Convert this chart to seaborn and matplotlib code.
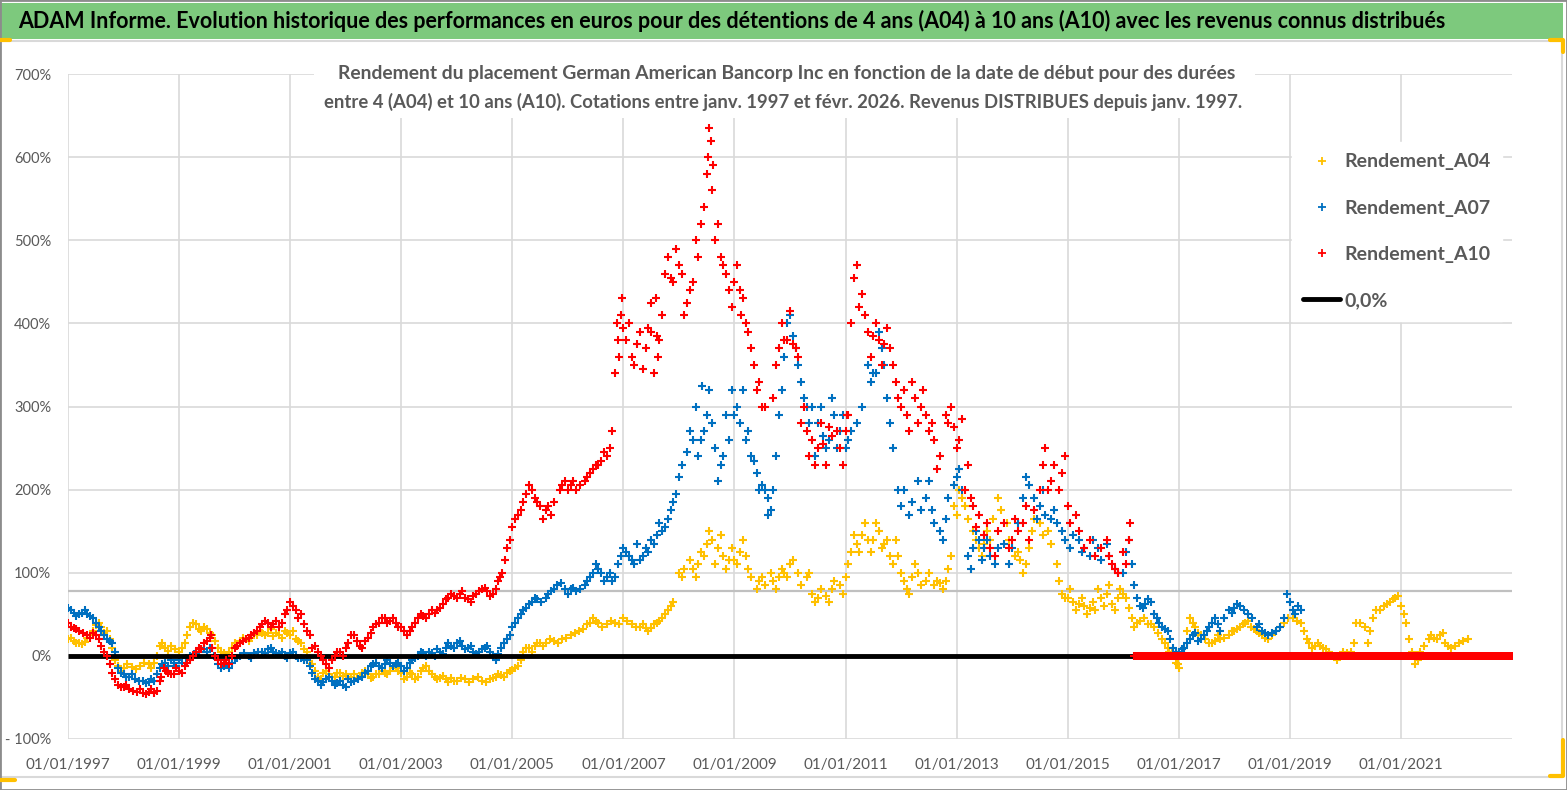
import matplotlib

matplotlib.use("Agg")
import matplotlib.pyplot as plt
import numpy as np
import seaborn as sns
from matplotlib.lines import Line2D
from matplotlib.patches import Rectangle

sns.set_theme(style="white")
plt.rcParams["font.family"] = ["Lato", "DejaVu Sans"]

# ---- data (decimal year, % return) ----
a04_years = [
    1997.0, 1997.1, 1997.2, 1997.3, 1997.4, 1997.5, 1997.6, 1997.7, 1997.8, 1997.9,
    1998.0, 1998.15, 1998.3, 1998.45, 1998.55, 1998.65, 1998.75, 1998.85, 1999.0, 1999.1,
    1999.2, 1999.3, 1999.4, 1999.5, 1999.6, 1999.7, 1999.8, 1999.9, 2000.0, 2000.1,
    2000.2, 2000.3, 2000.4, 2000.5, 2000.6, 2000.7, 2000.8, 2000.9, 2001.0, 2001.1,
    2001.2, 2001.3, 2001.4, 2001.5, 2001.6, 2001.7, 2001.8, 2001.9, 2002.0, 2002.1,
    2002.2, 2002.3, 2002.4, 2002.5, 2002.6, 2002.7, 2002.8, 2002.9, 2003.0, 2003.1,
    2003.2, 2003.3, 2003.4, 2003.5, 2003.6, 2003.7, 2003.8, 2003.9, 2004.0, 2004.15,
    2004.3, 2004.45, 2004.6, 2004.7, 2004.8, 2004.9, 2005.0, 2005.1, 2005.2, 2005.3,
    2005.4, 2005.5, 2005.6, 2005.75, 2005.9, 2006.05, 2006.2, 2006.35, 2006.45, 2006.55,
    2006.7, 2006.85, 2007.0, 2007.15, 2007.3, 2007.4, 2007.5, 2007.6, 2007.7, 2007.8,
    2007.9, 2008.0, 2008.1, 2008.25, 2008.35, 2008.45, 2008.55, 2008.6, 2008.7, 2008.8,
    2008.9, 2009.0, 2009.1, 2009.2, 2009.3, 2009.45, 2009.55, 2009.7, 2009.8, 2009.9,
    2010.0, 2010.15, 2010.3, 2010.4, 2010.5, 2010.65, 2010.75, 2010.9, 2011.0, 2011.1,
    2011.2, 2011.3, 2011.4, 2011.5, 2011.6, 2011.7, 2011.8, 2011.9, 2012.0, 2012.1,
    2012.2, 2012.3, 2012.45, 2012.6, 2012.7, 2012.8, 2012.9, 2012.95, 2013.05, 2013.15,
    2013.3, 2013.4, 2013.5, 2013.6, 2013.75, 2013.9, 2014.05, 2014.15, 2014.25, 2014.35,
    2014.5, 2014.65, 2014.8, 2014.9, 2015.0, 2015.1, 2015.2, 2015.3, 2015.4, 2015.5,
    2015.6, 2015.7, 2015.8, 2015.9, 2016.0, 2016.1, 2016.2, 2016.3, 2016.45, 2016.55,
    2016.7, 2016.8, 2016.87, 2016.95, 2017.0, 2017.1, 2017.2, 2017.3, 2017.4, 2017.55,
    2017.65, 2017.75, 2017.9, 2018.0, 2018.1, 2018.2, 2018.3, 2018.4, 2018.5, 2018.6,
    2018.75, 2018.9, 2019.05, 2019.2, 2019.3, 2019.4, 2019.5, 2019.6, 2019.7, 2019.85,
    2019.95, 2020.1, 2020.2, 2020.35, 2020.4, 2020.55, 2020.7, 2020.8, 2020.9, 2021.0,
    2021.1, 2021.15, 2021.25, 2021.35, 2021.5, 2021.6, 2021.7, 2021.8, 2021.9, 2022.05,
    2022.2,
]
a04_values = [
    20, 18, 15, 17, 25, 37, 35, 30, 10, -12,
    -15, -13, -12, -10, -8, 12, 10, 12, 5, 15,
    35, 38, 30, 32, 25, 10, 3, 5, 15, 18,
    20, 22, 25, 28, 28, 24, 25, 30, 25, 20,
    15, 5, -10, -25, -20, -22, -25, -20, -22, -25,
    -27, -20, -22, -25, -22, -20, -18, -15, -20, -25,
    -22, -25, -15, -18, -25, -27, -28, -27, -30, -28,
    -28, -30, -28, -25, -23, -20, -17, -12, 5, 10,
    12, 15, 15, 18, 20, 25, 30, 38, 45, 40,
    38, 40, 45, 38, 35, 33, 33, 40, 45, 55,
    65, 100, 105, 105, 110, 120, 150, 140, 130, 120,
    115, 115, 125, 120, 95, 90, 85, 90, 95, 100,
    110, 100, 95, 75, 70, 72, 80, 85, 95, 125,
    135, 145, 140, 140, 150, 135, 120, 140, 100, 80,
    95, 100, 90, 85, 88, 90, 120, 180, 200, 180,
    150, 130, 135, 140, 190, 160, 120, 115, 110, 150,
    160, 150, 110, 75, 70, 65, 62, 60, 58, 55,
    70, 75, 62, 70, 75, 58, 35, 42, 38, 35,
    20, 10, 5, -8, -15, 10, 45, 35, 25, 15,
    18, 20, 25, 30, 35, 40, 35, 30, 25, 20,
    30, 40, 45, 40, 20, 10, 15, 10, 5, -5,
    5, 5, 40, 35, 15, 55, 60, 65, 70, 60,
    40, 20, -10, 5, 20, 22, 25, 15, 10, 15,
    20,
]
# extra readings inside the spread of the daily cloud
a04_years_b = [
    1997.05, 1997.15, 1997.25, 1997.35, 1997.45, 1997.55, 1997.65, 1997.75, 1997.85, 1997.95,
    1998.07, 1998.22, 1998.37, 1998.5, 1998.6, 1998.7, 1998.8, 1998.93, 1999.05, 1999.15,
    1999.25, 1999.35, 1999.45, 1999.55, 1999.65, 1999.75, 1999.85, 1999.95, 2000.05, 2000.15,
    2000.25, 2000.35, 2000.45, 2000.55, 2000.65, 2000.75, 2000.85, 2000.95, 2001.05, 2001.15,
    2001.25, 2001.35, 2001.45, 2001.55, 2001.65, 2001.75, 2001.85, 2001.95, 2002.05, 2002.15,
    2002.25, 2002.35, 2002.45, 2002.55, 2002.65, 2002.75, 2002.85, 2002.95, 2003.05, 2003.15,
    2003.25, 2003.35, 2003.45, 2003.55, 2003.65, 2003.75, 2003.85, 2003.95, 2004.08, 2004.22,
    2004.38, 2004.52, 2004.65, 2004.75, 2004.85, 2004.95, 2005.05, 2005.15, 2005.25, 2005.35,
    2005.45, 2005.55, 2005.68, 2005.82, 2005.97, 2006.12, 2006.28, 2006.4, 2006.5, 2006.62,
    2006.78, 2006.92, 2007.07, 2007.22, 2007.35, 2007.45, 2007.55, 2007.65, 2007.75, 2007.85,
    2008.05, 2008.2, 2008.3, 2008.4, 2008.5, 2008.65, 2008.75, 2008.85, 2008.95, 2009.05,
    2009.15, 2009.25, 2009.4, 2009.5, 2009.65, 2009.75, 2009.85, 2009.95, 2010.05, 2010.2,
    2010.35, 2010.45, 2010.55, 2010.7, 2010.8, 2010.95, 2011.05, 2011.15, 2011.25, 2011.35,
    2011.45, 2011.55, 2011.65, 2011.75, 2011.85, 2011.95, 2012.05, 2012.15, 2012.25, 2012.35,
    2012.5, 2012.65, 2012.75, 2012.85, 2013.0, 2013.1, 2013.2, 2013.35, 2013.45, 2013.55,
    2013.65, 2013.8, 2013.95, 2014.1, 2014.2, 2014.3, 2014.4, 2014.55, 2014.7, 2014.85,
    2014.95, 2015.05, 2015.15, 2015.25, 2015.35, 2015.45, 2015.55, 2015.65, 2015.75, 2015.85,
    2015.95, 2016.05, 2016.15, 2016.25, 2016.38, 2016.5, 2016.62, 2016.75, 2016.83, 2016.9,
    2016.98, 2017.05, 2017.15, 2017.25, 2017.35, 2017.47, 2017.6, 2017.7, 2017.82, 2017.95,
    2018.05, 2018.15, 2018.25, 2018.35, 2018.45, 2018.55, 2018.68, 2018.82, 2018.97, 2019.12,
    2019.25, 2019.35, 2019.45, 2019.55, 2019.65, 2019.77, 2019.9, 2020.03, 2020.15, 2020.27,
    2020.45, 2020.5, 2020.62, 2020.75, 2020.85, 2020.95, 2021.05, 2021.2, 2021.3, 2021.42,
    2021.55, 2021.65, 2021.75, 2021.85, 2021.97, 2022.12,
]
a04_values_b = [
    22, 15, 14, 22, 30, 40, 28, 20, -5, -18,
    -10, -16, -8, -14, 0, 15, 6, 8, 10, 25,
    40, 32, 35, 28, 18, 5, 0, 10, 12, 22,
    18, 28, 30, 25, 32, 28, 22, 28, 30, 18,
    8, -2, -18, -28, -18, -25, -20, -24, -28, -22,
    -24, -18, -27, -22, -18, -22, -14, -18, -28, -20,
    -28, -18, -12, -22, -28, -24, -32, -30, -27, -32,
    -26, -32, -27, -22, -25, -18, -15, -5, 10, 5,
    15, 12, 20, 15, 22, 28, 32, 40, 42, 35,
    42, 38, 42, 35, 38, 30, 38, 42, 50, 60,
    95, 115, 95, 125, 135, 110, 145, 105, 130, 110,
    140, 105, 80, 95, 100, 80, 105, 95, 115, 85,
    100, 65, 80, 65, 90, 75, 110, 145, 125, 160,
    125, 160, 130, 140, 110, 120, 90, 75, 110, 85,
    100, 90, 80, 105, 170, 190, 165, 140, 120, 150,
    165, 175, 140, 125, 100, 130, 165, 145, 135, 90,
    70, 80, 55, 70, 50, 65, 80, 60, 85, 55,
    80, 70, 45, 40, 45, 38, 28, 15, 5, 0,
    -10, 0, 30, 40, 28, 20, 15, 25, 22, 30,
    32, 38, 42, 32, 28, 22, 25, 35, 45, 42,
    30, 15, 12, 12, 8, 0, 0, 3, 15, 40,
    30, 45, 55, 62, 68, 72, 50, 5, -5, 12,
    25, 20, 28, 12, 12, 18,
]

a07_years = [
    1997.0, 1997.1, 1997.2, 1997.3, 1997.4, 1997.5, 1997.6, 1997.7, 1997.8, 1997.9,
    1998.0, 1998.1, 1998.2, 1998.35, 1998.45, 1998.55, 1998.65, 1998.75, 1998.85, 1998.95,
    1999.05, 1999.2, 1999.35, 1999.45, 1999.55, 1999.7, 1999.8, 1999.9, 2000.0, 2000.1,
    2000.25, 2000.35, 2000.5, 2000.6, 2000.7, 2000.8, 2000.9, 2001.0, 2001.1, 2001.2,
    2001.3, 2001.4, 2001.5, 2001.55, 2001.65, 2001.75, 2001.85, 2001.95, 2002.05, 2002.15,
    2002.3, 2002.4, 2002.5, 2002.6, 2002.7, 2002.8, 2002.9, 2003.0, 2003.1, 2003.2,
    2003.3, 2003.4, 2003.5, 2003.6, 2003.7, 2003.8, 2003.9, 2004.0, 2004.1, 2004.2,
    2004.3, 2004.4, 2004.5, 2004.6, 2004.7, 2004.8, 2004.9, 2004.95, 2005.05, 2005.15,
    2005.25, 2005.35, 2005.45, 2005.6, 2005.7, 2005.8, 2005.95, 2006.05, 2006.15, 2006.3,
    2006.4, 2006.5, 2006.6, 2006.7, 2006.8, 2006.9, 2007.0, 2007.1, 2007.2, 2007.35,
    2007.5, 2007.6, 2007.7, 2007.8, 2007.9, 2007.95, 2008.05, 2008.15, 2008.25, 2008.35,
    2008.45, 2008.5, 2008.55, 2008.6, 2008.65, 2008.7, 2008.8, 2008.9, 2009.0, 2009.1,
    2009.2, 2009.3, 2009.4, 2009.5, 2009.55, 2009.6, 2009.7, 2009.75, 2009.85, 2009.95,
    2010.05, 2010.1, 2010.2, 2010.3, 2010.35, 2010.5, 2010.6, 2010.7, 2010.8, 2010.9,
    2011.0, 2011.1, 2011.2, 2011.3, 2011.4, 2011.5, 2011.55, 2011.65, 2011.75, 2011.8,
    2011.85, 2011.95, 2012.0, 2012.15, 2012.3, 2012.45, 2012.6, 2012.75, 2012.85, 2013.0,
    2013.1, 2013.2, 2013.3, 2013.4, 2013.5, 2013.6, 2013.75, 2013.95, 2014.1, 2014.25,
    2014.4, 2014.5, 2014.6, 2014.7, 2014.8, 2014.95, 2015.1, 2015.2, 2015.3, 2015.4,
    2015.55, 2015.75, 2015.9, 2016.05, 2016.15, 2016.2, 2016.3, 2016.4, 2016.5, 2016.6,
    2016.7, 2016.8, 2016.9, 2017.0, 2017.1, 2017.15, 2017.25, 2017.4, 2017.5, 2017.65,
    2017.75, 2017.9, 2018.0, 2018.1, 2018.25, 2018.4, 2018.5, 2018.6, 2018.75, 2018.9,
    2018.95, 2019.05, 2019.15, 2019.2,
]
a07_values = [
    58, 52, 50, 55, 48, 40, 30, 20, 15, -15,
    -22, -25, -28, -30, -32, -30, -15, -8, -5, -12,
    -8, 0, 5, 8, 10, -10, -12, -15, -3, 0,
    0, 3, 5, 8, 5, 2, 0, 3, 0, -3,
    -5, -20, -30, -35, -28, -30, -33, -35, -28, -30,
    -25, -18, -10, -12, -10, -8, -10, -12, -15, -5,
    0, 3, 5, 0, 5, 10, 12, 15, 12, 10,
    5, 5, 10, 5, -5, 10, 20, 25, 40, 50,
    58, 65, 68, 70, 78, 85, 80, 80, 78, 85,
    95, 110, 100, 95, 90, 110, 130, 120, 110, 120,
    140, 145, 150, 165, 185, 195, 230, 245, 260, 240,
    270, 290, 320, 280, 250, 210, 240, 260, 290, 280,
    260, 240, 220, 205, 200, 170, 200, 240, 320, 400,
    385, 370, 330, 300, 280, 280, 265, 260, 290, 270,
    250, 270, 280, 300, 350, 340, 340, 370, 310, 280,
    250, 200, 180, 170, 210, 190, 160, 140, 190, 215,
    200, 120, 130, 140, 130, 120, 130, 110, 160, 215,
    190, 180, 170, 165, 160, 140, 145, 140, 130, 120,
    130, 120, 100, 125, 110, 85, 60, 62, 65, 45,
    35, 30, 10, 5, 10, 15, 25, 20, 30, 45,
    30, 55, 58, 60, 50, 35, 30, 25, 30, 45,
    75, 55, 60, 55,
]
a07_years_b = [
    1997.05, 1997.15, 1997.25, 1997.35, 1997.45, 1997.55, 1997.65, 1997.75, 1997.85, 1997.95,
    1998.05, 1998.15, 1998.27, 1998.4, 1998.5, 1998.6, 1998.7, 1998.8, 1998.9, 1999.0,
    1999.12, 1999.27, 1999.4, 1999.5, 1999.62, 1999.75, 1999.85, 1999.95, 2000.05, 2000.17,
    2000.3, 2000.42, 2000.55, 2000.65, 2000.75, 2000.85, 2000.95, 2001.05, 2001.15, 2001.25,
    2001.35, 2001.45, 2001.6, 2001.7, 2001.8, 2001.9, 2002.0, 2002.1, 2002.22, 2002.35,
    2002.45, 2002.55, 2002.65, 2002.75, 2002.85, 2002.95, 2003.05, 2003.15, 2003.25, 2003.35,
    2003.45, 2003.55, 2003.65, 2003.75, 2003.85, 2003.95, 2004.05, 2004.15, 2004.25, 2004.35,
    2004.45, 2004.55, 2004.65, 2004.75, 2004.85, 2005.0, 2005.1, 2005.2, 2005.3, 2005.4,
    2005.52, 2005.65, 2005.75, 2005.87, 2006.0, 2006.1, 2006.22, 2006.35, 2006.45, 2006.55,
    2006.65, 2006.75, 2006.85, 2006.95, 2007.05, 2007.15, 2007.3, 2007.4, 2007.55, 2007.75,
    2007.25, 2007.45, 2007.65, 2007.85, 2008.0, 2008.2, 2008.3, 2008.4, 2008.42, 2008.75,
    2008.85, 2008.95, 2009.05, 2009.15, 2009.25, 2009.35, 2009.45, 2009.6, 2009.65, 2009.8,
    2009.9, 2010.0, 2010.15, 2010.25, 2010.4, 2010.45, 2010.55, 2010.65, 2010.75, 2010.85,
    2010.95, 2011.05, 2011.45, 2011.6, 2011.7, 2012.05, 2012.2, 2012.35, 2012.5, 2012.55,
    2012.7, 2012.8, 2012.95, 2013.05, 2013.25, 2013.35, 2013.45, 2013.55, 2013.7, 2013.85,
    2014.0, 2014.2, 2014.3, 2014.45, 2014.55, 2014.75, 2014.9, 2015.05, 2015.25, 2015.45,
    2015.6, 2015.7, 2015.85, 2016.0, 2016.1, 2016.25, 2016.35, 2016.45, 2016.55, 2016.65,
    2016.75, 2016.85, 2016.95, 2017.05, 2017.2, 2017.3, 2017.35, 2017.45, 2017.55, 2017.6,
    2017.7, 2017.82, 2017.95, 2018.05, 2018.18, 2018.32, 2018.45, 2018.55, 2018.68, 2018.82,
    2019.0, 2019.1,
]
a07_values_b = [
    55, 48, 52, 50, 45, 35, 25, 18, 5, -20,
    -25, -22, -30, -33, -28, -22, -10, -12, -8, -5,
    -3, 2, 8, 5, 0, -14, -10, -8, -2, 3,
    -2, 5, 3, 10, 3, 5, -2, 5, -2, -5,
    -12, -28, -32, -25, -35, -30, -38, -32, -28, -20,
    -12, -8, -14, -5, -12, -8, -18, -8, -2, 5,
    0, 3, 8, 2, 15, 10, 18, 8, 12, 2,
    8, 12, 0, 2, 15, 35, 45, 55, 62, 70,
    65, 75, 80, 88, 75, 82, 80, 90, 100, 105,
    90, 100, 95, 120, 125, 115, 115, 130, 135, 155,
    135, 125, 160, 175, 215, 270, 300, 260, 325, 230,
    290, 320, 300, 320, 270, 235, 200, 190, 175, 290,
    360, 410, 350, 310, 300, 240, 300, 250, 310, 250,
    290, 260, 330, 390, 350, 200, 185, 175, 210, 175,
    150, 165, 205, 225, 105, 150, 115, 140, 110, 135,
    130, 190, 205, 165, 200, 175, 150, 130, 125, 140,
    115, 135, 105, 100, 140, 70, 58, 68, 50, 40,
    32, 20, 5, 8, 20, 28, 18, 25, 35, 40,
    38, 45, 52, 62, 55, 45, 38, 28, 28, 35,
    65, 50,
]

a10_years = [
    1997.0, 1997.1, 1997.2, 1997.35, 1997.45, 1997.55, 1997.65, 1997.7, 1997.8, 1997.9,
    1998.0, 1998.1, 1998.25, 1998.35, 1998.45, 1998.55, 1998.65, 1998.72, 1998.8, 1998.9,
    1999.0, 1999.1, 1999.2, 1999.3, 1999.35, 1999.45, 1999.55, 1999.6, 1999.7, 1999.8,
    1999.9, 2000.0, 2000.1, 2000.2, 2000.3, 2000.4, 2000.5, 2000.6, 2000.7, 2000.8,
    2000.9, 2001.0, 2001.1, 2001.15, 2001.25, 2001.3, 2001.4, 2001.5, 2001.55, 2001.65,
    2001.7, 2001.8, 2001.9, 2002.0, 2002.1, 2002.2, 2002.3, 2002.4, 2002.5, 2002.6,
    2002.7, 2002.8, 2002.9, 2003.0, 2003.1, 2003.2, 2003.3, 2003.4, 2003.5, 2003.6,
    2003.65, 2003.75, 2003.85, 2003.95, 2004.05, 2004.15, 2004.25, 2004.35, 2004.45, 2004.55,
    2004.65, 2004.75, 2004.82, 2004.9, 2005.0, 2005.1, 2005.2, 2005.3, 2005.4, 2005.5,
    2005.6, 2005.7, 2005.85, 2005.95, 2006.05, 2006.15, 2006.3, 2006.4, 2006.5, 2006.6,
    2006.7, 2006.8, 2006.85, 2006.9, 2006.95, 2007.05, 2007.15, 2007.25, 2007.3, 2007.4,
    2007.5, 2007.6, 2007.65, 2007.75, 2007.85, 2007.9, 2008.0, 2008.1, 2008.2, 2008.25,
    2008.35, 2008.45, 2008.5, 2008.55, 2008.6, 2008.65, 2008.75, 2008.8, 2008.9, 2009.0,
    2009.1, 2009.15, 2009.2, 2009.3, 2009.45, 2009.55, 2009.7, 2009.8, 2009.9, 2009.95,
    2010.05, 2010.1, 2010.2, 2010.3, 2010.4, 2010.5, 2010.6, 2010.75, 2010.9, 2011.0,
    2011.05, 2011.1, 2011.2, 2011.3, 2011.4, 2011.5, 2011.6, 2011.7, 2011.8, 2011.9,
    2011.95, 2012.0, 2012.15, 2012.25, 2012.35, 2012.45, 2012.6, 2012.7, 2012.85, 2012.95,
    2013.05, 2013.15, 2013.3, 2013.4, 2013.5, 2013.6, 2013.75, 2013.95, 2014.1, 2014.25,
    2014.4, 2014.55, 2014.7, 2014.9, 2015.0, 2015.15, 2015.3, 2015.5, 2015.7, 2015.8,
    2015.9, 2016.05, 2016.1,
]
a10_values = [
    40, 33, 30, 25, 28, 20, 5, 0, -20, -35,
    -38, -40, -43, -45, -43, -45, -30, -15, -20, -22,
    -18, -12, -5, 5, 10, 15, 22, 10, -5, -8,
    -10, 10, 15, 20, 25, 30, 38, 40, 38, 35,
    50, 65, 55, 45, 38, 30, 10, 5, 0, -10,
    -15, 0, 5, 10, 25, 18, 10, 22, 35, 40,
    45, 42, 40, 35, 25, 35, 45, 48, 50, 52,
    55, 62, 70, 72, 75, 70, 65, 75, 80, 78,
    75, 90, 100, 130, 155, 170, 185, 205, 190, 180,
    175, 170, 200, 210, 205, 200, 210, 220, 230, 235,
    240, 270, 340, 380, 410, 380, 360, 375, 390, 370,
    390, 385, 380, 460, 455, 450, 470, 410, 440, 450,
    480, 540, 580, 635, 560, 500, 480, 470, 440, 450,
    440, 430, 400, 370, 330, 300, 310, 370, 380, 380,
    375, 370, 280, 270, 260, 250, 255, 265, 250, 270,
    290, 400, 470, 435, 390, 385, 380, 375, 370, 330,
    310, 300, 270, 310, 300, 290, 260, 240, 280, 275,
    260, 200, 180, 170, 145, 130, 150, 130, 150, 180,
    175, 230, 210, 220, 180, 170, 130, 120, 140, 110,
    100, 110, 140,
]
a10_years_b = [
    1997.05, 1997.15, 1997.27, 1997.4, 1997.5, 1997.6, 1997.75, 1997.85, 1997.95, 1998.05,
    1998.17, 1998.3, 1998.4, 1998.5, 1998.6, 1998.68, 1998.76, 1998.85, 1998.95, 1999.05,
    1999.15, 1999.25, 1999.4, 1999.5, 1999.58, 1999.65, 1999.75, 1999.85, 1999.95, 2000.05,
    2000.15, 2000.25, 2000.35, 2000.45, 2000.55, 2000.65, 2000.75, 2000.85, 2000.95, 2001.05,
    2001.2, 2001.35, 2001.45, 2001.6, 2001.75, 2001.85, 2001.95, 2002.05, 2002.15, 2002.25,
    2002.35, 2002.45, 2002.55, 2002.65, 2002.75, 2002.85, 2002.95, 2003.05, 2003.15, 2003.25,
    2003.35, 2003.45, 2003.55, 2003.7, 2003.8, 2003.9, 2004.0, 2004.1, 2004.2, 2004.3,
    2004.4, 2004.5, 2004.6, 2004.7, 2004.78, 2004.86, 2004.95, 2005.05, 2005.15, 2005.25,
    2005.35, 2005.45, 2005.55, 2005.65, 2005.75, 2005.9, 2006.0, 2006.1, 2006.22, 2006.35,
    2006.45, 2006.55, 2006.65, 2006.75,
    2006.88, 2006.92, 2006.97, 2007.0, 2007.1, 2007.2, 2007.35, 2007.45, 2007.5, 2007.55,
    2007.58, 2007.62, 2007.7, 2007.8, 2007.95, 2008.05, 2008.15, 2008.3, 2008.4, 2008.52,
    2008.57, 2008.62, 2008.7, 2008.85, 2008.95, 2009.05, 2009.12, 2009.25, 2009.35, 2009.4,
    2009.5, 2009.75, 2009.85, 2010.0, 2010.15, 2010.25, 2010.35, 2010.45, 2010.55, 2010.65,
    2010.7, 2010.85, 2010.95, 2011.02, 2011.15, 2011.25, 2011.35, 2011.45, 2011.55, 2011.65,
    2011.75, 2011.85, 2012.05, 2012.1, 2012.2, 2012.3, 2012.4, 2012.5, 2012.55, 2012.65,
    2012.8, 2012.9, 2013.0, 2013.1, 2013.2, 2013.25, 2013.35, 2013.55, 2013.7, 2013.85,
    2014.0, 2014.05, 2014.2, 2014.3, 2014.5, 2014.6, 2014.65, 2014.75, 2014.85, 2014.95,
    2015.05, 2015.2, 2015.4, 2015.6, 2015.75, 2015.85, 2016.0, 2016.13,
]
a10_values_b = [
    35, 32, 28, 22, 25, 12, -10, -28, -38, -35,
    -42, -40, -46, -40, -42, -25, -18, -22, -15, -20,
    -8, 0, 8, 18, 25, 0, -10, -5, 0, 12,
    18, 22, 28, 35, 42, 35, 42, 40, 55, 60,
    50, 25, 12, -5, -5, 5, 0, 15, 25, 12,
    18, 28, 38, 45, 40, 45, 35, 30, 30, 40,
    50, 45, 55, 58, 68, 75, 70, 78, 68, 72,
    78, 82, 72, 80, 95, 115, 140, 165, 175, 195,
    200, 185, 165, 180, 185, 205, 200, 210, 205, 215,
    225, 230, 245, 250,
    400, 360, 430, 395, 400, 350, 345, 395, 425, 340,
    430, 360, 410, 480, 490, 460, 425, 500, 520, 600,
    620, 590, 520, 460, 420, 470, 410, 390, 350, 320,
    300, 350, 400, 415, 360, 300, 240, 230, 280, 230,
    275, 270, 230, 290, 455, 420, 410, 360, 400, 350,
    395, 350, 320, 290, 330, 280, 320, 270, 280, 225,
    290, 300, 250, 285, 230, 190, 155, 160, 120, 160,
    140, 165, 160, 140, 200, 250, 200, 230, 200, 240,
    160, 150, 140, 130, 120, 105, 125, 160,
]
# after early 2016 the 10-year window runs past the last quote: shown as 0 %
a10_zero_start = 2016.2
a10_zero_end = 2023.0

x_tick_years = [1997, 1999, 2001, 2003, 2005, 2007, 2009, 2011, 2013, 2015, 2017, 2019, 2021]
y_ticks = [-100, 0, 100, 200, 300, 400, 500, 600, 700]
y_tick_labels = ["- 100%", "0%", "100%", "200%", "300%", "400%", "500%", "600%", "700%"]

title = ("ADAM Informe. Evolution historique des performances en euros pour des détentions "
         "de 4 ans (A04) à 10 ans (A10) avec les revenus connus distribués")
sub1 = ("Rendement du placement German American Bancorp Inc en fonction de la date de début "
        "pour des durées")
sub2 = ("entre 4 (A04) et 10 ans (A10). Cotations entre janv. 1997 et févr. 2026. "
        "Revenus DISTRIBUES depuis janv. 1997.")

C_A04 = "#FFC000"
C_A07 = "#0070C0"
C_A10 = "#FF0000"
GRAY_TXT = "#595959"
W, H = 1567, 790


def fx(px):
    return px / W


def fy(py):
    return 1 - py / H


def fit_width(txt, width_px, fig):
    r = fig.canvas.get_renderer()
    w = txt.get_window_extent(renderer=r).width
    txt.set_fontsize(txt.get_fontsize() * width_px / w)


fig = plt.figure(figsize=(W / 100, H / 100), dpi=100)
fig.patch.set_facecolor("white")
ax = fig.add_axes([fx(68), fy(739), fx(1512) - fx(68), fy(74) - fy(739)])

mk = dict(marker="+", s=32, linewidth=1.5, ax=ax)
sns.scatterplot(x=a04_years + a04_years_b, y=a04_values + a04_values_b, color=C_A04,
                zorder=3, **mk)
sns.scatterplot(x=a07_years + a07_years_b, y=a07_values + a07_values_b, color=C_A07,
                zorder=4, **mk)
ax.plot([1997, 2023], [0, 0], color="black", lw=3.5, zorder=5, solid_capstyle="butt")
sns.scatterplot(x=a10_years + a10_years_b, y=a10_values + a10_values_b, color=C_A10,
                zorder=6, **mk)
zero_x = np.linspace(a10_zero_start, a10_zero_end, 200)
sns.scatterplot(x=zero_x, y=np.zeros_like(zero_x), color=C_A10, zorder=6, **mk)

# stray gray rule seen in the capture
ax.axhline(78, color="#C0C0C0", lw=1.6, zorder=2)

ax.set_xlim(1997, 2023)
ax.set_ylim(-100, 700)
ax.set_xticks(x_tick_years)
ax.set_xticklabels([f"01/01/{y}" for y in x_tick_years], color=GRAY_TXT, fontsize=11)
ax.set_yticks(y_ticks)
ax.set_yticklabels(y_tick_labels, color=GRAY_TXT, fontsize=10.5)
ax.tick_params(axis="x", length=0, pad=14)
ax.tick_params(axis="y", length=0, pad=12)
ax.grid(True, color="#D9D9D9", lw=1.2, zorder=0)
ax.set_axisbelow(True)
for sp in ax.spines.values():
    sp.set_visible(False)

handles = [
    Line2D([], [], marker="+", ls="", color=C_A04, markersize=6, mew=1.3),
    Line2D([], [], marker="+", ls="", color=C_A07, markersize=6, mew=1.3),
    Line2D([], [], marker="+", ls="", color=C_A10, markersize=6, mew=1.3),
    Line2D([], [], color="black", lw=3.5),
]
leg = ax.legend(handles, ["Rendement_A04", "Rendement_A07", "Rendement_A10", "0,0%"],
                loc="upper left", bbox_to_anchor=(fx(1282), fy(132)),
                bbox_transform=fig.transFigure, frameon=True, facecolor="white",
                edgecolor="white", framealpha=1, fancybox=False, borderpad=0.6,
                labelspacing=1.5, handlelength=1.9, handletextpad=0.2,
                prop={"size": 14, "weight": "bold"})
for t in leg.get_texts():
    t.set_color(GRAY_TXT)
leg.set_zorder(10)

# title bar
fig.add_artist(Rectangle((0, fy(39)), fx(1563), fy(3) - fy(39), transform=fig.transFigure,
                         facecolor="#7DC97D", edgecolor="none", zorder=1))
t_title = fig.text(fx(18), fy(21), title, ha="left", va="center", fontsize=16,
                   weight="bold", color="black", zorder=3)
fit_width(t_title, 1437, fig)

# subtitle on a white box over the grid
fig.add_artist(Rectangle((fx(314), fy(118)), fx(1255) - fx(314), fy(58) - fy(118),
                         transform=fig.transFigure, facecolor="white", edgecolor="none",
                         zorder=1))
t1 = fig.text(fx(787), fy(74), sub1, ha="center", va="center", fontsize=13,
              weight="bold", color=GRAY_TXT, zorder=3)
t2 = fig.text(fx(783), fy(102), sub2, ha="center", va="center", fontsize=13,
              weight="bold", color=GRAY_TXT, zorder=3)
fit_width(t1, 899, fig)
fit_width(t2, 915, fig)

# frame lines and selection handles of the capture
fig.add_artist(Line2D([0, fx(1563)], [fy(41), fy(41)], transform=fig.transFigure,
                      color="#D9D9D9", lw=1.5, zorder=1))
fig.add_artist(Line2D([fx(1562), fx(1562)], [fy(41), fy(777)], transform=fig.transFigure,
                      color="#D9D9D9", lw=1.5, zorder=1))
fig.add_artist(Line2D([0, fx(1562)], [fy(777), fy(777)], transform=fig.transFigure,
                      color="#D9D9D9", lw=1.5, zorder=1))
fig.add_artist(Rectangle((0, 0), 1, 1, transform=fig.transFigure, facecolor="none",
                         edgecolor="#8C8C8C", lw=2, zorder=1))
for xs, ys in [([0, fx(10)], [fy(40), fy(40)]),
               ([0, fx(15)], [fy(780), fy(780)]),
               ([fx(1550), fx(1563), fx(1563)], [fy(40), fy(40), fy(52)]),
               ([fx(1563), fx(1563), fx(1550)], [fy(740), fy(776), fy(776)])]:
    fig.add_artist(Line2D(xs, ys, transform=fig.transFigure, color="#FFC000", lw=3,
                          zorder=2))

fig.savefig("out.png", dpi=100)
